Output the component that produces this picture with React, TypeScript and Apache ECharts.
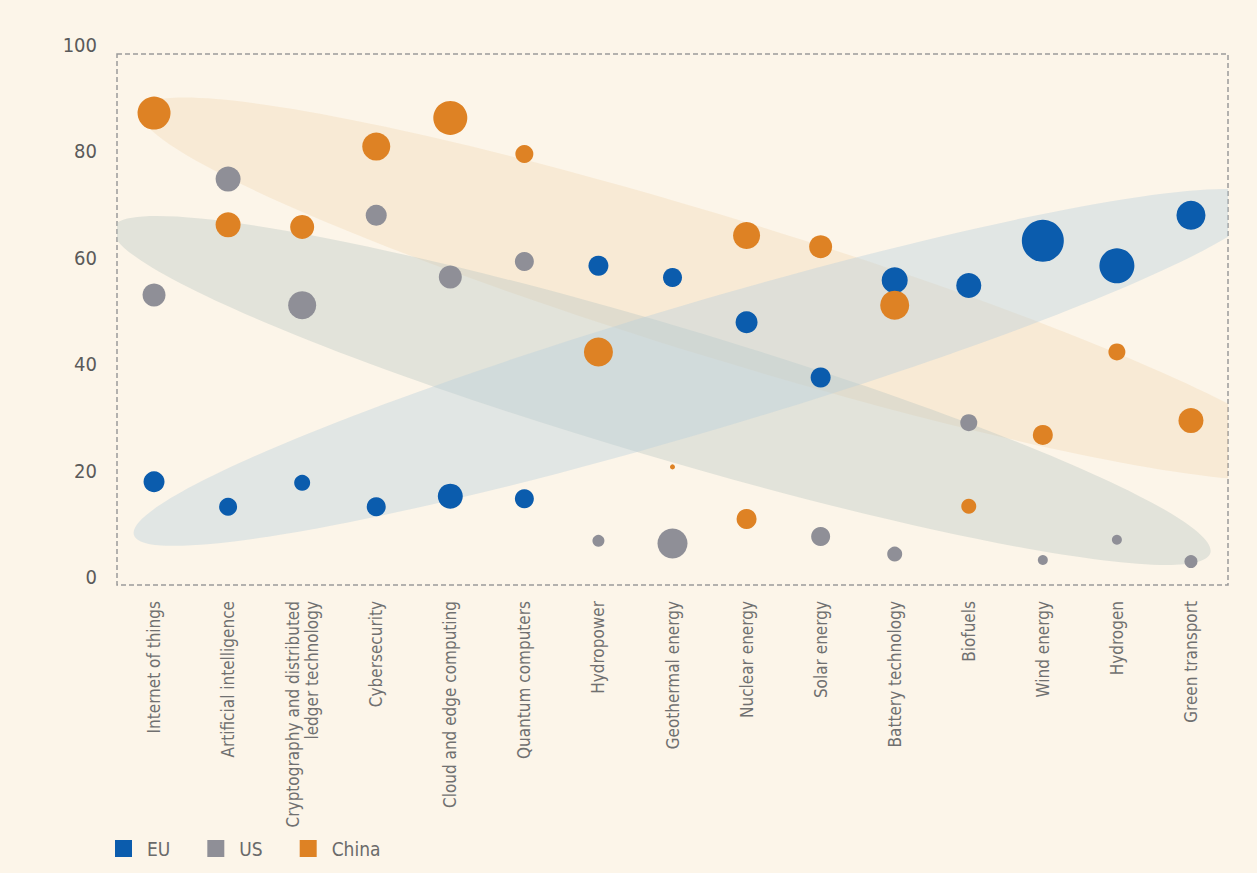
import React, { useEffect, useRef } from "react";
import * as echarts from "echarts";

const categories = [
  "Internet of things",
  "Artificial intelligence",
  "Cryptography and distributed\nledger technology",
  "Cybersecurity",
  "Cloud and edge computing",
  "Quantum computers",
  "Hydropower",
  "Geothermal energy",
  "Nuclear energy",
  "Solar energy",
  "Battery technology",
  "Biofuels",
  "Wind energy",
  "Hydrogen",
  "Green transport",
];

const euValues = [17.9, 13.2, 17.7, 13.2, 15.2, 14.7, 58.5, 56.3, 47.9, 37.5, 55.8, 54.8, 63.2, 58.5, 68.0];
const euSizes = [21, 18, 16, 19, 25, 19, 20, 19, 22, 20, 26, 25, 42, 35, 29];

const usValues = [53.0, 74.8, 51.1, 68.0, 56.4, 59.3, 6.8, 6.3, null, 7.6, 4.3, 29.0, 3.2, 7.0, 2.9];
const usSizes = [23, 25, 28, 21, 23, 19, 12, 30, null, 19, 15, 17, 10, 10, 13];

const chinaValues = [87.2, 66.2, 65.8, 80.9, 86.3, 79.5, 42.3, 20.7, 64.2, 62.1, 51.1, 13.3, 26.7, 42.3, 29.4];
const chinaSizes = [33, 25, 24, 28, 34, 18, 29, 5, 27, 23, 29, 15, 20, 17, 25];
// a second orange point drawn in the nuclear energy column
const chinaExtraCategory = "Nuclear energy";
const chinaExtraValue = 10.9;
const chinaExtraSize = 20;

const yTickValues = [0, 20, 40, 60, 80, 100];

// shaded bands: [x tip 1 (category position), y tip 1, x tip 2, y tip 2]
const bandChina = [-0.19, 87.8, 15.6, 20.5];
const bandUS = [-0.554, 65.6, 14.26, 4.5];
const bandEU = [-0.27, 7.9, 15.0, 70.9];

const FONT = '"DejaVu Sans Condensed", "Liberation Sans Narrow", sans-serif';
const C_EU = "#0b5cad";
const C_US = "#8f8f97";
const C_CN = "#de8224";

function toPoints(values: (number | null)[], sizes: (number | null)[]) {
  const out: number[][] = [];
  values.forEach((v, i) => {
    if (v !== null && sizes[i] !== null) out.push([i, v, sizes[i] as number]);
  });
  return out;
}

export default function App() {
  const ref = useRef<HTMLDivElement>(null);

  useEffect(() => {
    document.body.style.margin = "0";
    const chart = echarts.init(ref.current!, undefined, { renderer: "svg" });

    const bandThickness = [70, 66, 64];
    const bandFills = [
      "rgba(238,200,150,0.24)",
      "rgba(188,201,194,0.40)",
      "rgba(186,208,219,0.40)",
    ];
    const bandData = [bandChina, bandUS, bandEU].map((b, i) => [0, b[1], 0, b[3], bandThickness[i], b[0], b[2]]);

    const chinaPts = toPoints(chinaValues, chinaSizes);
    chinaPts.push([categories.indexOf(chinaExtraCategory), chinaExtraValue, chinaExtraSize]);

    const frameLeft = 117;
    const frameTop = 54;
    const frameRight = 1228;
    const frameBottom = 585;

    chart.setOption({
      animation: false,
      backgroundColor: "#fcf5e9",
      grid: { left: 117, right: 1257 - 1228, top: 45, bottom: 873 - 577, containLabel: false },
      xAxis: {
        type: "category",
        data: categories,
        boundaryGap: true,
        axisLine: { show: false },
        axisTick: { show: false },
        splitLine: { show: false },
        axisLabel: {
          rotate: 90,
          interval: 0,
          margin: 24,
          color: "#707070",
          fontFamily: FONT,
          fontSize: 17,
          lineHeight: 19,
        },
      },
      yAxis: {
        type: "value",
        min: 0,
        max: 100,
        interval: 20,
        axisLine: { show: false },
        axisTick: { show: false },
        splitLine: { show: false },
        axisLabel: {
          margin: 20,
          color: "#5a5a5a",
          fontFamily: FONT,
          fontSize: 20,
          formatter: (v: number) => (yTickValues.includes(v) ? String(v) : ""),
        },
      },
      legend: {
        data: ["EU", "US", "China"],
        left: 115,
        top: 839,
        padding: 0,
        icon: "rect",
        itemWidth: 17,
        itemHeight: 17,
        itemGap: 37,
        textStyle: {
          color: "#6a6a6a",
          fontFamily: FONT,
          fontSize: 19,
          padding: [0, 0, 0, 10],
        },
      },
      graphic: [
        {
          type: "rect",
          z: 0,
          shape: { x: frameLeft, y: frameTop, width: frameRight - frameLeft, height: frameBottom - frameTop },
          style: { fill: "none", stroke: "#9a9a9a", lineWidth: 1.5, lineDash: [5, 3] },
          silent: true,
        },
      ],
      series: [
        {
          type: "custom",
          name: "bands",
          z: 1,
          clip: true,
          silent: true,
          data: bandData,
          renderItem: (params: any, api: any) => {
            // category positions may be fractional: interpolate between two category centres
            const c0 = api.coord([0, 0])[0];
            const c1 = api.coord([1, 0])[0];
            const step = c1 - c0;
            const x1 = c0 + api.value(5) * step;
            const x2 = c0 + api.value(6) * step;
            const y1 = api.coord([0, api.value(1)])[1];
            const y2 = api.coord([0, api.value(3)])[1];
            const cx = (x1 + x2) / 2;
            const cy = (y1 + y2) / 2;
            const dx = x2 - x1;
            const dy = y2 - y1;
            const rx = Math.hypot(dx, dy) / 2;
            const ang = Math.atan2(dy, dx);
            return {
              type: "ellipse",
              x: cx,
              y: cy,
              rotation: -ang,
              shape: { cx: 0, cy: 0, rx, ry: api.value(4) },
              style: { fill: bandFills[params.dataIndex] },
            };
          },
        },
        {
          type: "scatter",
          name: "EU",
          z: 3,
          color: C_EU,
          itemStyle: { color: C_EU, opacity: 1 },
          symbolSize: (d: number[]) => d[2],
          data: toPoints(euValues, euSizes),
        },
        {
          type: "scatter",
          name: "US",
          z: 3,
          color: C_US,
          itemStyle: { color: C_US, opacity: 1 },
          symbolSize: (d: number[]) => d[2],
          data: toPoints(usValues, usSizes),
        },
        {
          type: "scatter",
          name: "China",
          z: 3,
          color: C_CN,
          itemStyle: { color: C_CN, opacity: 1 },
          symbolSize: (d: number[]) => d[2],
          data: chinaPts,
        },
      ],
    });

    return () => chart.dispose();
  }, []);

  return <div ref={ref} style={{ width: 1257, height: 873 }} />;
}
